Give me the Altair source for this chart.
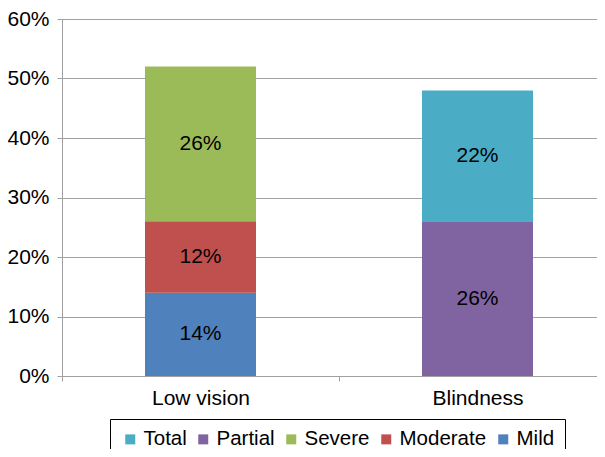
import altair as alt
import pandas as pd

categories = ["Low vision", "Low vision", "Low vision", "Blindness", "Blindness"]
series = ["Mild", "Moderate", "Severe", "Partial", "Total"]
values = [14, 12, 26, 26, 22]
stack_order = [0, 1, 2, 0, 1]
category_order = ["Low vision", "Blindness"]
legend_order = ["Total", "Partial", "Severe", "Moderate", "Mild"]
legend_colors = ["#4BACC6", "#8064A2", "#9BBB59", "#C0504D", "#4F81BD"]
y_ticks = [0, 10, 20, 30, 40, 50, 60]

df = pd.DataFrame({
    "category": categories,
    "series": series,
    "value": values,
    "order": stack_order,
    "label": [f"{v}%" for v in values],
})

FONT = "Liberation Sans"
GRID = "#A0A0A0"

x_enc = alt.X(
    "category:N",
    sort=category_order,
    scale=alt.Scale(paddingInner=0, paddingOuter=0),
    axis=alt.Axis(
        title=None, labelAngle=0, labelFontSize=21, labelColor="#000000",
        labelFont=FONT, tickBand="extent", tickSize=5, tickColor=GRID,
        domainColor=GRID, domainWidth=1, labelPadding=6, grid=False,
    ),
)

base = alt.Chart(df).transform_stack(
    stack="value",
    groupby=["category"],
    as_=["y0", "y1"],
    sort=[alt.SortField("order", "ascending")],
).transform_calculate(mid="(datum.y0 + datum.y1) / 2")

bars = base.mark_bar(size=111).encode(
    x=x_enc,
    y=alt.Y(
        "y0:Q",
        scale=alt.Scale(domain=[0, 60], nice=False),
        axis=alt.Axis(
            title=None, values=y_ticks, labelExpr="datum.value + '%'",
            labelFontSize=21, labelColor="#000000", labelFont=FONT,
            tickSize=5, tickColor=GRID, domainColor=GRID, gridColor=GRID,
            grid=True, labelPadding=8,
        ),
    ),
    y2="y1:Q",
    color=alt.Color(
        "series:N",
        scale=alt.Scale(domain=legend_order, range=legend_colors),
        legend=alt.Legend(
            title=None, orient="none", direction="horizontal",
            legendX=48, legendY=400, strokeColor="#000000", fillColor="#ffffff",
            padding=10, symbolType="square", symbolSize=100, symbolStrokeWidth=0,
            symbolOpacity=1, labelFontSize=20.5, labelFont=FONT, labelColor="#000000",
            labelOffset=3, columnPadding=6,
        ),
    ),
)

texts = base.mark_text(fontSize=21, font=FONT, color="#000000", align="center", baseline="middle").encode(
    x=alt.X("category:N", sort=category_order),
    y=alt.Y("mid:Q"),
    text="label:N",
)

chart = alt.layer(bars, texts).properties(
    width=554,
    height=357,
    autosize=alt.AutoSizeParams(type="none"),
    padding={"left": 54, "top": 11, "right": -19, "bottom": 73},
).configure_view(strokeWidth=0).configure(font=FONT)

chart.save("out.html", embed_options={"renderer": "svg", "actions": False})
